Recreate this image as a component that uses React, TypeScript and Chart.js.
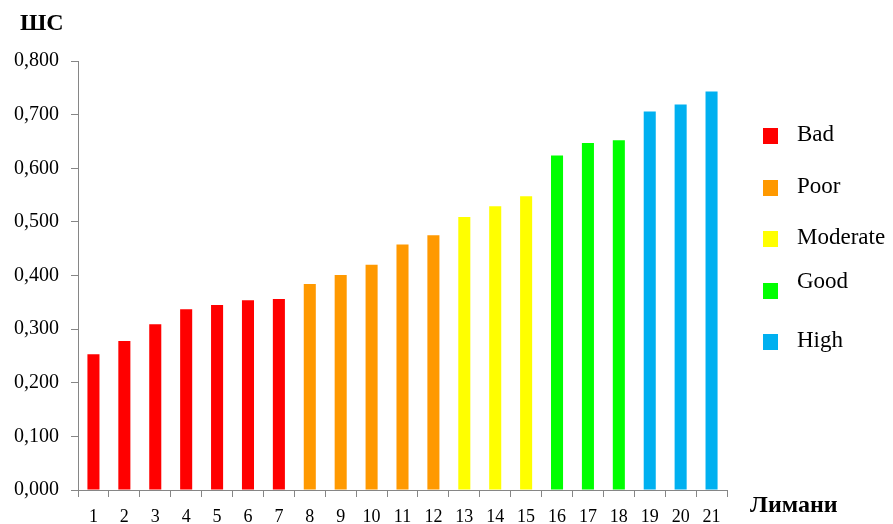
import React, { useEffect, useRef } from "react";
import { Chart, registerables } from "chart.js";

Chart.register(...registerables);

const categories = ["1","2","3","4","5","6","7","8","9","10","11","12","13","14","15","16","17","18","19","20","21"];
const values = [0.253,0.278,0.309,0.337,0.345,0.354,0.356,0.384,0.401,0.420,0.458,0.475,0.509,0.529,0.548,0.624,0.647,0.652,0.706,0.719,0.743];
const classOfBar = [0,0,0,0,0,0,0,1,1,1,1,1,2,2,2,3,3,3,4,4,4];
const classNames = ["Bad","Poor","Moderate","Good","High"];
const classColors = ["#FF0000","#FF9900","#FFFF00","#00FF00","#00B0F0"];
const yTitle = "ШС";
const xTitle = "Лимани";

const SERIF = "'Liberation Serif', 'Times New Roman', serif";

const extrasPlugin = {
  id: "extras",
  afterDraw(chart: any) {
    const ctx = chart.ctx;
    const area = chart.chartArea;
    ctx.save();
    ctx.fillStyle = "#000";
    ctx.font = `bold 24px ${SERIF}`;
    ctx.textBaseline = "alphabetic";
    ctx.textAlign = "left";
    ctx.fillText(yTitle, 20, 30);
    ctx.fillText(xTitle, area.right + 23, 512);
    // legend
    const boxX = area.right + 36;
    const ys = [136, 188, 239, 291, 342];
    ctx.font = `23px ${SERIF}`;
    ctx.textBaseline = "middle";
    classNames.forEach((name, i) => {
      ctx.fillStyle = classColors[i];
      ctx.fillRect(boxX, ys[i] - 8, 15, 16);
      ctx.fillStyle = "#000";
      ctx.fillText(name, boxX + 34, ys[i] - (i === 3 ? 9 : 1));
    });
    ctx.restore();
  },
};

export default function App() {
  const ref = useRef<HTMLCanvasElement>(null);
  useEffect(() => {
    const chart = new Chart(ref.current!, {
      type: "bar",
      data: {
        labels: categories,
        datasets: [
          {
            label: "ШС",
            data: values,
            backgroundColor: classOfBar.map((c) => classColors[c]),
            borderWidth: 0,
            barPercentage: 0.39,
            categoryPercentage: 1,
          },
        ],
      },
      options: {
        animation: false,
        responsive: false,
        maintainAspectRatio: false,
        layout: { padding: { left: 2, right: 166, top: 61, bottom: 0 } },
        plugins: { legend: { display: false }, tooltip: { enabled: false } },
        scales: {
          x: {
            afterFit: (scale: any) => {
              scale.height = 34;
            },
            grid: {
              display: true,
              drawOnChartArea: false,
              drawTicks: true,
              tickLength: 7,
              color: "#868686",
              offset: true,
            },
            border: { display: true, color: "#868686", width: 1 },
            ticks: {
              color: "#000",
              font: { family: SERIF, size: 18 },
              padding: 9,
              maxRotation: 0,
              autoSkip: false,
            },
          },
          y: {
            min: 0,
            max: 0.8,
            grid: {
              display: true,
              drawOnChartArea: false,
              drawTicks: true,
              tickLength: 7,
              color: "#868686",
            },
            border: { display: true, color: "#868686", width: 1 },
            ticks: {
              stepSize: 0.1,
              color: "#000",
              font: { family: SERIF, size: 20 },
              padding: 12,
              callback: (v: any) => Number(v).toFixed(3).replace(".", ","),
            },
          },
        },
      },
      plugins: [extrasPlugin],
    });
    return () => chart.destroy();
  }, []);
  return (
    <div style={{ position: "absolute", left: 0, top: 0, width: 893, height: 524, background: "#fff" }}>
      <canvas ref={ref} width={893} height={524} style={{ display: "block" }} />
    </div>
  );
}
